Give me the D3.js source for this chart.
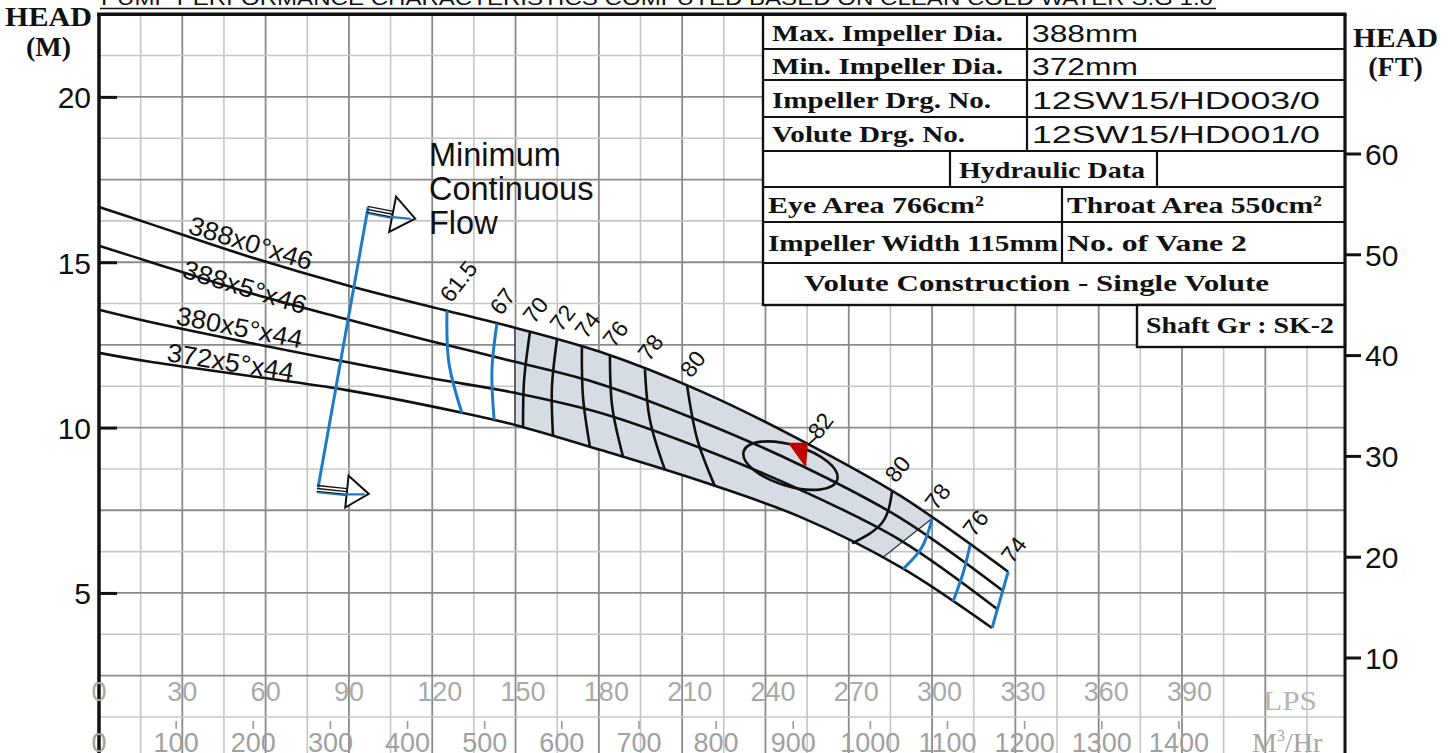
<!DOCTYPE html>
<html><head><meta charset="utf-8">
<script src="https://cdn.jsdelivr.net/npm/d3@7"></script>
<style>html,body{margin:0;padding:0;background:#fff;overflow:hidden}svg{display:block}</style>
</head><body>
<svg id="chart" width="1452" height="753"></svg>
<script>
// ---------------- DATA ----------------
const curveNames = ["388x0°x46", "388x5°x46", "380x5°x44", "372x5°x44"];
// flow in LPS, head in metres
const c388x0Flow = [0, 18.4, 54.4, 88.6, 125.3, 149.8, 180.4, 216.4, 252.5, 288.5, 327.4];
const c388x0Head = [16.67, 16.16, 15.16, 14.32, 13.53, 13.02, 12.29, 11.11, 9.63, 7.94, 5.64];
const c388x5Flow = [0, 18.4, 54.4, 88.6, 119.2, 149.8, 180.4, 216.4, 252.5, 288.5, 325.6];
const c388x5Head = [15.50, 15.01, 14.07, 13.29, 12.62, 11.99, 11.32, 10.20, 8.87, 7.27, 5.06];
const c380x5Flow = [0, 18.4, 54.4, 88.6, 119.2, 149.8, 180.4, 216.4, 252.5, 288.5, 323.8];
const c380x5Head = [13.56, 13.19, 12.56, 11.99, 11.50, 11.05, 10.45, 9.39, 8.12, 6.60, 4.49];
const c372x5Flow = [0, 18.4, 54.4, 88.6, 130.7, 149.8, 180.4, 216.4, 252.5, 288.5, 321.6];
const c372x5Head = [12.26, 11.99, 11.56, 11.14, 10.45, 10.08, 9.33, 8.39, 7.30, 5.79, 3.94];

// iso-efficiency lines (top, middle, bottom points)
const effLabels = ["61.5", "67", "70", "72", "74", "76", "78", "80", "80", "78", "76", "74"];
const effColors = ["blue", "blue", "black", "black", "black", "black", "black", "black", "black", "blue", "blue", "blue"];
const effFlows = [
  [125.3, 126.0, 130.7], [143.3, 141.5, 142.3], [155.2, 153.1, 152.7], [164.9, 163.1, 163.5],
  [173.9, 174.3, 176.8], [184.0, 184.8, 188.7], [196.6, 198.4, 203.8], [211.8, 215.4, 221.8],
  [285.6, 282.0, 271.2], [300.0, 296.4, 289.6], [313.7, 311.2, 307.6], [327.4, 324.5, 321.6]
];
const effHeads = [
  [13.53, 11.96, 10.44], [13.15, 11.72, 10.23], [12.89, 11.44, 10.02], [12.65, 11.20, 9.75],
  [12.44, 10.92, 9.42], [12.17, 10.64, 9.12], [11.76, 10.23, 8.72], [11.26, 9.66, 8.23],
  [8.08, 7.12, 6.50], [7.25, 6.39, 5.73], [6.45, 5.61, 4.75], [5.64, 4.79, 3.94]
];
// shaded preferred region edges
const shadeLeftFlow = 149.8;
const shadeLeftHeads = [13.02, 10.08];
const shadeRightFlows = [282.0, 300.0];
const shadeRightHeads = [6.06, 7.25];

// best efficiency point
const bepLabel = "82";
const bepFlow = 249.0, bepHead = 8.85;
const bepEllipseFlowHalf = 17.6, bepEllipseHeadHalf = 0.62;
const bepTriFlow = [248.1, 255.3, 254.6];
const bepTriHead = [9.54, 9.54, 8.78];

// minimum continuous flow line
const minFlowFlow = [78.9, 96.9];
const minFlowHead = [8.19, 16.66];
const minFlowText = ["Minimum", "Continuous", "Flow"];

// axes
const headMTicks = [5, 10, 15, 20];
const headFtTicks = [10, 20, 30, 40, 50, 60];
const lpsTicks = [0, 30, 60, 90, 120, 150, 180, 210, 240, 270, 300, 330, 360, 390];
const m3hTicks = [0, 100, 200, 300, 400, 500, 600, 700, 800, 900, 1000, 1100, 1200, 1300, 1400];

// info table
const tableLeft = ["Max. Impeller Dia.", "Min. Impeller Dia.", "Impeller Drg. No.", "Volute Drg. No."];
const tableRight = ["388mm", "372mm", "12SW15/HD003/0", "12SW15/HD001/0"];
const hydraulicTitle = "Hydraulic Data";
const hydraulicCells = ["Eye Area 766cm²", "Throat Area 550cm²", "Impeller Width 115mm", "No. of Vane 2"];
const constructionText = "Volute Construction - Single Volute";
const shaftText = "Shaft Gr : SK-2";
const titleText = "PUMP  PERFORMANCE  CHARACTERISTICS  COMPUTED  BASED  ON  CLEAN  COLD  WATER  S.G  1.0";

// ---------------- DRAW ----------------
const svg = d3.select("#chart");
const W = 1452, H = 753;
const L = 99, R = 1345, T = 14.2;
const maxLps = 448.7;
const x = d3.scaleLinear().domain([0, maxLps]).range([L, R]);
const xM3 = d3.scaleLinear().domain([0, maxLps * 3.6]).range([L, R]);
const y = d3.scaleLinear().domain([0, 22.5]).range([758.3, T]);
const yFt = d3.scaleLinear().domain([0, 22.5 / 0.3048]).range([758.3, T]);
const BLUE = "#1f7cc4";
const sans = "'Liberation Sans', Arial, sans-serif";
const serif = "'Liberation Serif', 'Times New Roman', serif";

svg.append("rect").attr("width", W).attr("height", H).attr("fill", "#fff");

const gGrid = svg.append("g");
const gFill = svg.append("g");
const gCurves = svg.append("g");
const gAnn = svg.append("g");
const gTable = svg.append("g");
const gAxes = svg.append("g");

// grid
const vGrid = d3.range(15, maxLps, 15);
gGrid.selectAll("line.v").data(vGrid).join("line")
  .attr("x1", d => x(d)).attr("x2", d => x(d)).attr("y1", T).attr("y2", H)
  .attr("stroke", d => d % 30 === 0 ? "#8a8a8a" : "#c6c6c6")
  .attr("stroke-width", d => d % 30 === 0 ? 1.8 : 1.6);
const hGrid = d3.range(1.25, 22.5, 1.25);
const isMajor = d => Math.abs(d / 2.5 - Math.round(d / 2.5)) < 1e-6;
gGrid.selectAll("line.h").data(hGrid).join("line")
  .attr("x1", L).attr("x2", R).attr("y1", d => y(d)).attr("y2", d => y(d))
  .attr("stroke", d => isMajor(d) ? "#8a8a8a" : "#c6c6c6")
  .attr("stroke-width", d => isMajor(d) ? 1.8 : 1.6);

// performance curves
const curveData = [
  d3.zip(c388x0Flow, c388x0Head), d3.zip(c388x5Flow, c388x5Head),
  d3.zip(c380x5Flow, c380x5Head), d3.zip(c372x5Flow, c372x5Head)
];
const lineM = d3.line().x(d => x(d[0])).y(d => y(d[1])).curve(d3.curveCatmullRom.alpha(0.5));
const curvePaths = gCurves.selectAll("path.curve").data(curveData).join("path")
  .attr("d", lineM).attr("fill", "none").attr("stroke", "#111").attr("stroke-width", 2.6);

// shaded region between top and bottom curves
function samplePath(node, n) {
  const len = node.getTotalLength();
  return d3.range(n + 1).map(i => { const p = node.getPointAtLength(len * i / n); return [p.x, p.y]; });
}
const nodes = curvePaths.nodes();
const topPts = samplePath(nodes[0], 400);
const botPts = samplePath(nodes[3], 400).reverse();
const bP = [x(shadeRightFlows[0]), y(shadeRightHeads[0])];
const tP = [x(shadeRightFlows[1]), y(shadeRightHeads[1])];
const dv = [tP[0] - bP[0], tP[1] - bP[1]];
const xl = x(shadeLeftFlow);
const clipPoly = [[xl, 0], [xl, H], [bP[0] - dv[0] * 3, bP[1] - dv[1] * 3], [tP[0] + dv[0] * 3, tP[1] + dv[1] * 3], [tP[0] + dv[0] * 3, 0]];
svg.append("defs").append("clipPath").attr("id", "shadeClip")
  .append("polygon").attr("points", clipPoly.map(p => p.join(",")).join(" "));
gFill.append("polygon").attr("points", topPts.concat(botPts).map(p => p.join(",")).join(" "))
  .attr("fill", "#d5dce3").attr("clip-path", "url(#shadeClip)");
gFill.append("line").attr("x1", xl).attr("x2", xl).attr("y1", y(shadeLeftHeads[0])).attr("y2", y(shadeLeftHeads[1]))
  .attr("stroke", "#222").attr("stroke-width", 1.3);
gFill.append("line").attr("x1", bP[0]).attr("y1", bP[1]).attr("x2", tP[0]).attr("y2", tP[1])
  .attr("stroke", "#333").attr("stroke-width", 1.3);

// iso efficiency lines
const effData = effLabels.map((lab, i) => ({ lab, color: effColors[i], pts: d3.zip(effFlows[i], effHeads[i]) }));
const lineE = d3.line().x(d => x(d[0])).y(d => y(d[1])).curve(d3.curveNatural);
gCurves.selectAll("path.eff").data(effData).join("path")
  .attr("d", d => lineE(d.pts)).attr("fill", "none")
  .attr("stroke", d => d.color === "blue" ? BLUE : "#111")
  .attr("stroke-width", d => d.color === "blue" ? 3 : 2.6);
gAnn.selectAll("text.eff").data(effData).join("text")
  .attr("transform", d => `translate(${x(d.pts[0][0]) + 4},${y(d.pts[0][1]) - 7}) rotate(-52)`)
  .attr("font-family", sans).attr("font-size", 23).attr("fill", "#111").text(d => d.lab);

// BEP ellipse & triangle
gAnn.append("ellipse")
  .attr("cx", 0).attr("cy", 0)
  .attr("rx", x(bepFlow + bepEllipseFlowHalf) - x(bepFlow))
  .attr("ry", y(bepHead - bepEllipseHeadHalf) - y(bepHead))
  .attr("transform", `translate(${x(bepFlow)},${y(bepHead)}) rotate(17)`)
  .attr("fill", "none").attr("stroke", "#111").attr("stroke-width", 2.6);
gAnn.append("polygon")
  .attr("points", d3.zip(bepTriFlow, bepTriHead).map(p => [x(p[0]), y(p[1])].join(",")).join(" "))
  .attr("fill", "#c00000");
const triTR = [x(bepTriFlow[1]), y(bepTriHead[1])];
gAnn.append("line").attr("x1", triTR[0]).attr("y1", triTR[1] + 2).attr("x2", triTR[0] + 10).attr("y2", triTR[1] - 7)
  .attr("stroke", "#111").attr("stroke-width", 1.8);
gAnn.append("text").attr("transform", `translate(${triTR[0] + 11},${triTR[1] - 2}) rotate(-52)`)
  .attr("font-family", sans).attr("font-size", 23).attr("fill", "#111").text(bepLabel);

// curve labels
const curveLabelPos = [[187, 233, 17], [181, 277, 17], [175, 324, 11], [166, 361, 9]];
gAnn.selectAll("text.cl").data(curveNames).join("text")
  .attr("transform", (d, i) => `translate(${curveLabelPos[i][0]},${curveLabelPos[i][1]}) rotate(${curveLabelPos[i][2]})`)
  .attr("font-family", sans).attr("font-size", 26).attr("fill", "#111")
  .attr("textLength", 128).attr("lengthAdjust", "spacingAndGlyphs")
  .text(d => d);

// minimum continuous flow
const mfTop = [x(minFlowFlow[1]), y(minFlowHead[1])];
const mfBot = [x(minFlowFlow[0]), y(minFlowHead[0])];
gAnn.append("line").attr("x1", mfBot[0]).attr("y1", mfBot[1]).attr("x2", mfTop[0]).attr("y2", mfTop[1])
  .attr("stroke", BLUE).attr("stroke-width", 3);
function arrow(p, ang, shaft, headLen, half) {
  const g = gAnn.append("g").attr("transform", `translate(${p[0]},${p[1]}) rotate(${ang})`);
  [-3, 0, 3].forEach(o => g.append("line").attr("x1", 0).attr("x2", shaft).attr("y1", o).attr("y2", o)
    .attr("stroke", "#111").attr("stroke-width", 1.4));
  g.append("line").attr("x1", 0).attr("x2", shaft).attr("y1", 4).attr("y2", 4).attr("stroke", BLUE).attr("stroke-width", 1.6);
  g.append("polygon").attr("points", `${shaft},${-half} ${shaft + headLen},0 ${shaft},${half}`)
    .attr("fill", "#fff").attr("stroke", "#111").attr("stroke-width", 2);
  g.append("line").attr("x1", shaft - 2).attr("x2", shaft + headLen - 4).attr("y1", 3).attr("y2", 1)
    .attr("stroke", BLUE).attr("stroke-width", 2.2);
}
arrow([mfTop[0] - 1, mfTop[1] + 2], 11, 26, 23, 18);
arrow([mfBot[0] - 1, mfBot[1] + 1], 6, 30, 22, 16);
gAnn.selectAll("text.mf").data(minFlowText).join("text")
  .attr("x", 429).attr("y", (d, i) => 166 + i * 34)
  .attr("font-family", sans).attr("font-size", 32.5).attr("fill", "#111").text(d => d);

// table
gTable.append("rect").attr("x", 763).attr("y", T).attr("width", R - 763).attr("height", 305 - T)
  .attr("fill", "#fff").attr("stroke", "#111").attr("stroke-width", 2.4);
gTable.append("rect").attr("x", 1137).attr("y", 305).attr("width", R - 1137).attr("height", 42)
  .attr("fill", "#fff").attr("stroke", "#111").attr("stroke-width", 2.4);
[49, 80, 117, 151, 187, 222, 263].forEach(yy => gTable.append("line").attr("x1", 763).attr("x2", R)
  .attr("y1", yy).attr("y2", yy).attr("stroke", "#111").attr("stroke-width", 2.2));
[[1027, T, 151], [950, 151, 187], [1157, 151, 187], [1062, 187, 263]].forEach(v => gTable.append("line")
  .attr("x1", v[0]).attr("x2", v[0]).attr("y1", v[1]).attr("y2", v[2]).attr("stroke", "#111").attr("stroke-width", 2.2));
const rowBase = [41, 74, 108, 142];
const leftW = [231, 231, 219, 193];
gTable.selectAll("text.tl").data(tableLeft).join("text")
  .attr("x", 772).attr("y", (d, i) => rowBase[i]).attr("textLength", (d, i) => leftW[i]).attr("lengthAdjust", "spacingAndGlyphs")
  .attr("font-family", serif).attr("font-weight", "bold").attr("font-size", 24).attr("fill", "#111").text(d => d);
const rightW = [106, 106, 288, 288];
gTable.selectAll("text.tr").data(tableRight).join("text")
  .attr("x", 1032).attr("y", (d, i) => rowBase[i] + 1).attr("textLength", (d, i) => rightW[i]).attr("lengthAdjust", "spacingAndGlyphs")
  .attr("font-family", sans).attr("font-size", 24).attr("fill", "#111").text(d => d);
function tText(t, xx, yy, w) {
  gTable.append("text").attr("x", xx).attr("y", yy).attr("textLength", w).attr("lengthAdjust", "spacingAndGlyphs")
    .attr("font-family", serif).attr("font-weight", "bold").attr("font-size", 24).attr("fill", "#111").text(t);
}
tText(hydraulicTitle, 959, 178, 186);
tText(hydraulicCells[0], 768, 213, 216);
tText(hydraulicCells[1], 1067, 213, 255);
tText(hydraulicCells[2], 768, 251, 290);
tText(hydraulicCells[3], 1067, 251, 180);
tText(constructionText, 804, 291, 465);
tText(shaftText, 1146, 333, 188);

// title (partially cut at the top)
svg.append("text").attr("x", 101).attr("y", 4.5).attr("textLength", 1112).attr("lengthAdjust", "spacingAndGlyphs")
  .attr("font-family", sans).attr("font-size", 20).attr("fill", "#111").text(titleText);
svg.append("line").attr("x1", 100).attr("x2", 1216).attr("y1", 8.5).attr("y2", 8.5).attr("stroke", "#111").attr("stroke-width", 1.6);

// frame
gAxes.append("line").attr("x1", L - 2).attr("x2", R + 1.5).attr("y1", T).attr("y2", T).attr("stroke", "#111").attr("stroke-width", 3.5);
gAxes.append("line").attr("x1", L).attr("x2", L).attr("y1", T).attr("y2", H).attr("stroke", "#111").attr("stroke-width", 3.5);
gAxes.append("line").attr("x1", R).attr("x2", R).attr("y1", T).attr("y2", H).attr("stroke", "#111").attr("stroke-width", 3);

// left axis (head m)
const axL = d3.axisLeft(y).tickValues(headMTicks).tickSize(-18).tickPadding(8).tickFormat(d3.format("d"));
const gL = gAxes.append("g").attr("transform", `translate(${L},0)`).call(axL);
gL.select(".domain").remove();
gL.selectAll("line").attr("stroke", "#111").attr("stroke-width", 3);
gL.selectAll("text").attr("font-family", sans).attr("font-size", 30).attr("fill", "#111").attr("dy", "0.36em");

// right axis (head ft)
const axR = d3.axisRight(yFt).tickValues(headFtTicks).tickSize(16).tickPadding(4).tickFormat(d3.format("d"));
const gR = gAxes.append("g").attr("transform", `translate(${R},0)`).call(axR);
gR.select(".domain").remove();
gR.selectAll("line").attr("stroke", "#111").attr("stroke-width", 3);
gR.selectAll("text").attr("font-family", sans).attr("font-size", 30).attr("fill", "#111").attr("dy", "0.36em");

// axis titles
function headTitle(xx, y1, y2, w1, sub) {
  svg.append("text").attr("x", xx).attr("y", y1).attr("textLength", w1).attr("lengthAdjust", "spacingAndGlyphs")
    .attr("font-family", serif).attr("font-weight", "bold").attr("font-size", 28).attr("fill", "#111").text("HEAD");
  svg.append("text").attr("x", xx + w1 / 2).attr("y", y2).attr("text-anchor", "middle")
    .attr("font-family", serif).attr("font-weight", "bold").attr("font-size", 28).attr("fill", "#111").text(sub);
}
headTitle(5, 26, 56, 87, "(M)");
headTitle(1353, 47, 76, 85, "(FT)");

// bottom flow labels
const digitW = 15;
gAxes.selectAll("text.lps").data(lpsTicks).join("text")
  .attr("x", d => x(d) - (String(d).length === 1 ? digitW / 2 : digitW)).attr("y", 701)
  .attr("font-family", sans).attr("font-size", 27).attr("fill", "#a9a9a9").text(d => d);
gAxes.selectAll("line.m3t").data(m3hTicks.slice(1)).join("line")
  .attr("x1", d => xM3(d)).attr("x2", d => xM3(d)).attr("y1", 721).attr("y2", 729)
  .attr("stroke", "#9a9a9a").attr("stroke-width", 1.6);
gAxes.selectAll("text.m3").data(m3hTicks).join("text")
  .attr("x", d => xM3(d)).attr("y", 752).attr("text-anchor", "middle")
  .attr("font-family", sans).attr("font-size", 27).attr("fill", "#a0a0a0").text(d => d);
gAxes.append("text").attr("x", 1263).attr("y", 710).attr("textLength", 54).attr("lengthAdjust", "spacingAndGlyphs")
  .attr("font-family", serif).attr("font-size", 28).attr("fill", "#b5b5b5").text("LPS");
const m3t = gAxes.append("text").attr("x", 1252).attr("y", 752)
  .attr("font-family", serif).attr("font-size", 28).attr("fill", "#a5a5a5");
m3t.append("tspan").text("M");
m3t.append("tspan").attr("font-size", 16).attr("dy", -11).text("3");
m3t.append("tspan").attr("dy", 11).text("/Hr");
</script>
</body></html>
